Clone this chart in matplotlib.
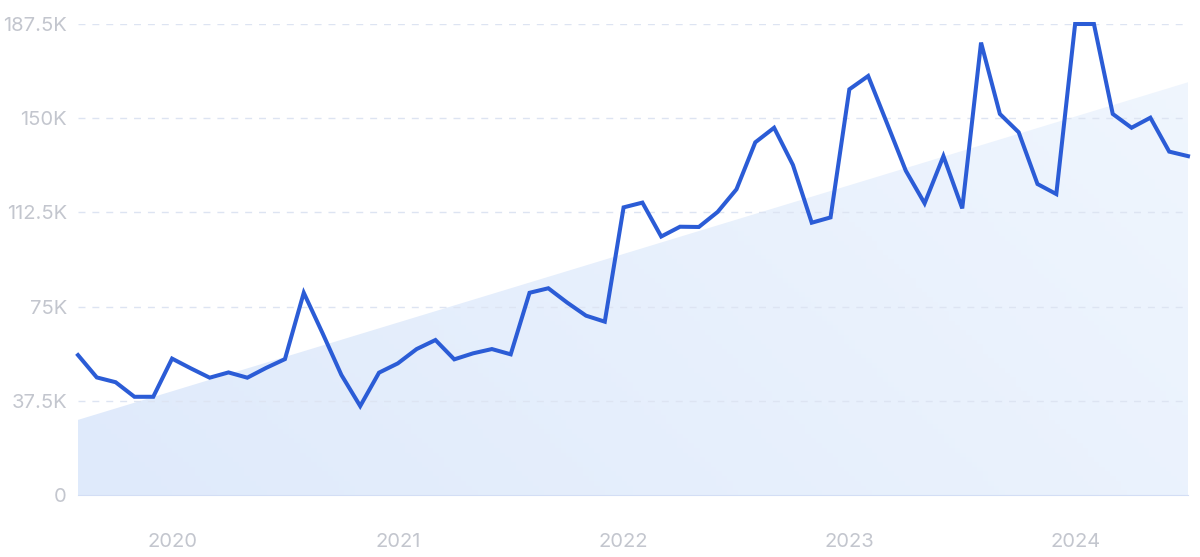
import numpy as np
import matplotlib.pyplot as plt
from matplotlib.colors import LinearSegmentedColormap
from matplotlib.ticker import FuncFormatter

plt.rcParams['font.family'] = ['Inter', 'DejaVu Sans']

# monthly values, Aug 2019 .. Jul 2024
values = [55.7, 46.8, 44.9, 39.1, 39.1, 54.3, 50.4, 46.7, 48.8, 46.7,
          50.6, 54.1, 80.5, 64.4, 47.8, 35.4, 48.7, 52.4, 58.1, 61.7,
          54.0, 56.4, 58.1, 56.0, 80.5, 82.3, 76.6, 71.4, 69.0, 114.5,
          116.4, 102.9, 106.8, 106.7, 112.7, 121.7, 140.4, 146.2, 131.4, 108.4,
          110.5, 161.5, 166.8, 148.0, 129.1, 116.1, 134.9, 114.1, 180.1, 151.7,
          144.4, 123.8, 119.8, 187.5, 187.5, 151.7, 146.2, 150.2, 136.7, 134.9]
values = [v * 1000 for v in values]
months = np.arange(len(values))

# trend line, start and end
trend = [29900, 164300]

year_ticks = [5, 17, 29, 41, 53]
year_labels = ['2020', '2021', '2022', '2023', '2024']
y_ticks = [0, 37500, 75000, 112500, 150000, 187500]


def fmt(v, pos):
    if v == 0:
        return '0'
    s = f'{v / 1000:.1f}'.rstrip('0').rstrip('.')
    return s + 'K'


fig = plt.figure(figsize=(12, 5.57), dpi=100)
ax = fig.add_axes([0.065, 0.1113, 0.925, 0.8456])

# trend area with a soft gradient
trend_y = np.linspace(trend[0], trend[1], len(values))
poly = ax.fill_between(months, 0, trend_y, color='none', lw=0)
cmap = LinearSegmentedColormap.from_list('fade', ['#dfeafb', '#f0f6fe'])
gx, gy = np.meshgrid(np.linspace(0, 1, 200), np.linspace(0, 1, 100))
grad = (gx * 0.7 + (1 - gy) * 0.3)
img = ax.imshow(grad, extent=[0, len(values) - 1, 0, 187500], origin='upper',
                aspect='auto', cmap=cmap, zorder=1)
img.set_clip_path(poly.get_paths()[0], transform=ax.transData)

ax.plot(months, values, color='#2b5cd6', lw=2.9, zorder=3,
        solid_joinstyle='miter', clip_on=False)

ax.set_xlim(0, len(values) - 1)
ax.set_ylim(0, 187500)
ax.set_yticks(y_ticks)
ax.yaxis.set_major_formatter(FuncFormatter(fmt))
ax.set_xticks(year_ticks)
ax.set_xticklabels(year_labels)

for y in y_ticks[1:]:
    ax.axhline(y, color='#dde4f2', lw=1, dashes=(5, 5), zorder=2)

for s in ['top', 'right', 'left']:
    ax.spines[s].set_visible(False)
ax.spines['bottom'].set_color('#d3def5')
ax.spines['bottom'].set_zorder(4)

ax.tick_params(axis='both', length=0, colors='#c3c6ce', labelsize=14.5)
ax.tick_params(axis='x', pad=27)
ax.tick_params(axis='y', pad=8)

fig.savefig('out.png', dpi=100)
